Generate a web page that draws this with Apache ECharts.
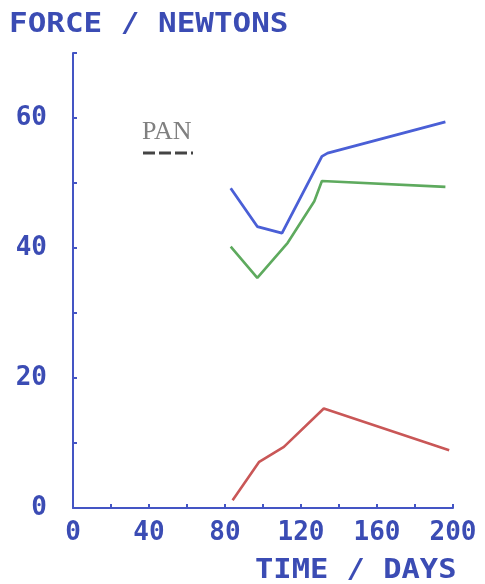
<!DOCTYPE html>
<html><head><meta charset="utf-8">
<script src="https://cdn.jsdelivr.net/npm/echarts@6/dist/echarts.min.js"></script>
<style>html,body{margin:0;padding:0;background:#fff}#c{width:485px;height:584px}</style>
</head><body><div id="c"></div>
<script>
const title = "FORCE / NEWTONS";
const xName = "TIME / DAYS";
const legendText = "PAN";
const blueX = [83, 97, 110, 131, 134, 196];
const blueY = [49.2, 43.3, 42.3, 54.1, 54.6, 59.4];
const greenX = [83, 97, 113, 127, 131, 196];
const greenY = [40.2, 35.4, 40.8, 47.2, 50.3, 49.4];
const redX = [84, 98, 111, 132, 198];
const redY = [1.2, 7.1, 9.4, 15.3, 8.9];
const xTickLabels = [0, 40, 80, 120, 160, 200];
const yTickLabels = [0, 20, 40, 60];

const ink = '#3b4cb4';
const font = 'DejaVu Sans Mono';
const pair = (xs, ys) => xs.map((x, i) => [x, ys[i]]);

const chart = echarts.init(document.getElementById('c'), null, {renderer: 'canvas'});
chart.setOption({
  backgroundColor: '#fff',
  animation: false,
  grid: {left: 73, right: 32, top: 53, bottom: 76},
  xAxis: {
    type: 'value', min: 0, max: 200, interval: 20,
    splitLine: {show: false},
    axisLine: {lineStyle: {color: '#4455c4', width: 2}},
    axisTick: {inside: true, length: 4, lineStyle: {color: '#4455c4', width: 2}},
    axisLabel: {
      margin: 12, color: ink, fontFamily: font, fontWeight: 'bold', fontSize: 26,
      formatter: v => xTickLabels.includes(v) ? String(v) : ''
    }
  },
  yAxis: {
    type: 'value', min: 0, max: 70, interval: 10,
    splitLine: {show: false},
    axisLine: {lineStyle: {color: '#4455c4', width: 2}},
    axisTick: {inside: true, length: 4, lineStyle: {color: '#4455c4', width: 2}},
    axisLabel: {
      margin: 26, color: ink, fontFamily: font, fontWeight: 'bold', fontSize: 26,
      formatter: v => yTickLabels.includes(v) ? String(v) : ''
    }
  },
  series: [
    {type: 'line', data: pair(blueX, blueY), showSymbol: false, lineStyle: {color: '#4a5fd6', width: 2.8}},
    {type: 'line', data: pair(greenX, greenY), showSymbol: false, lineStyle: {color: '#5eaa5e', width: 2.6}},
    {type: 'line', data: pair(redX, redY), showSymbol: false, lineStyle: {color: '#c95757', width: 2.6}}
  ],
  graphic: [
    {type: 'text', left: 9, top: 12, scaleX: 1.19, style: {text: title, fill: ink, fontFamily: font, fontWeight: 'bold', fontSize: 26}},
    {type: 'text', left: 255, top: 558, scaleX: 1.17, style: {text: xName, fill: ink, fontFamily: font, fontWeight: 'bold', fontSize: 26}},
    {type: 'text', left: 142, top: 119, style: {text: legendText, fill: '#808080', fontFamily: 'Liberation Serif', fontSize: 26}},
    {type: 'line', shape: {x1: 143, y1: 153, x2: 193, y2: 153}, style: {stroke: '#444', lineWidth: 3, lineDash: [12, 4]}}
  ]
});
</script></body></html>
